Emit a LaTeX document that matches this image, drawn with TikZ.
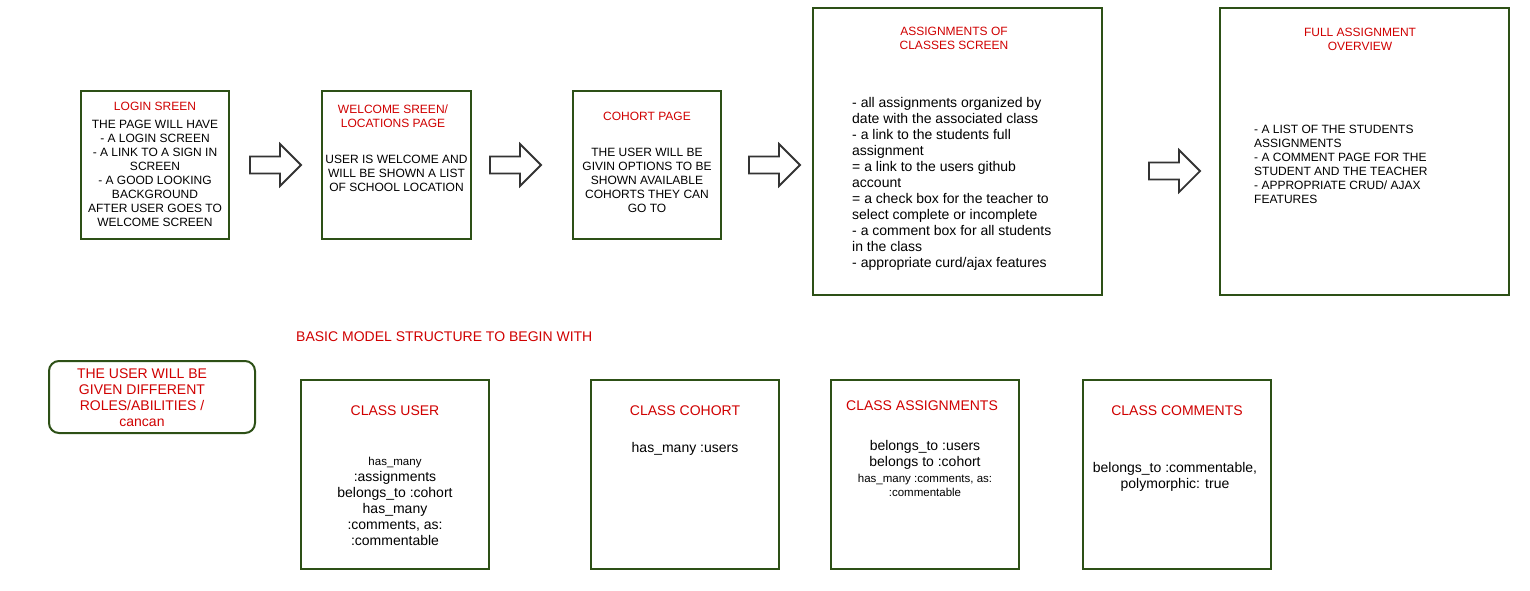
\documentclass[tikz,border=0pt]{standalone}
\usepackage{fontspec}
\setmainfont{Liberation Sans}
\definecolor{boxgreen}{HTML}{2D5016}
\definecolor{titlered}{HTML}{D00000}
\definecolor{arrowgray}{HTML}{333333}
\tikzset{
  screenbox/.style={draw=boxgreen, line width=2pt, fill=white, inner sep=0pt},
  rolebox/.style={screenbox, rounded corners=10pt},
  redtitle/.style={text=titlered, align=center, inner sep=0pt, font=\fontsize{12}{14}\selectfont},
  bigredtitle/.style={text=titlered, align=center, inner sep=0pt, font=\fontsize{14}{16}\selectfont},
  bodytext/.style={text=black, align=center, inner sep=0pt, font=\fontsize{12}{14}\selectfont},
  leftbody/.style={text=black, align=left, inner sep=0pt, anchor=west},
  classbody/.style={text=black, align=center, inner sep=0pt, font=\fontsize{14}{16}\selectfont},
  arrowline/.style={draw=arrowgray, line width=1.8pt, fill=white, line join=miter},
  blockarrow/.pic={\draw[arrowline] (0,-8.5) -- (30,-8.5) -- (30,-21) -- (51,0) -- (30,21) -- (30,8.5) -- (0,8.5) -- cycle;}
}
\newcommand{\smalltext}{\fontsize{11.5}{13}\selectfont}
\begin{document}
\begin{tikzpicture}[x=1pt,y=-1pt]
\useasboundingbox[fill=white] (0,0) rectangle (1530,590);

% top row boxes
\node[screenbox, minimum width=148, minimum height=148] (login) at (155,165) {};
\node[screenbox, minimum width=149, minimum height=148] (welcome) at (396.5,165) {};
\node[screenbox, minimum width=148, minimum height=148] (cohort) at (647,165) {};
\node[screenbox, minimum width=289, minimum height=287] (assign) at (957.5,151.5) {};
\node[screenbox, minimum width=289, minimum height=287] (full) at (1364.5,151.5) {};

% block arrows between screens
\pic at (250,165) {blockarrow};
\pic at (490,165) {blockarrow};
\pic at (749,165) {blockarrow};
\pic at (1149,171) {blockarrow};

% login
\node[redtitle] (logint) at (155,106.5) {LOGIN SREEN};
\node[bodytext] (loginb) at (155,173.5) {THE PAGE WILL HAVE\\- A LOGIN SCREEN\\- A LINK TO A SIGN IN\\SCREEN\\- A GOOD LOOKING\\BACKGROUND\\AFTER USER GOES TO\\WELCOME SCREEN};

% welcome
\node[redtitle] (welcomet) at (393,116.5) {WELCOME SREEN/\\LOCATIONS PAGE};
\node[bodytext] (welcomeb) at (396.5,173) {USER IS WELCOME AND\\WILL BE SHOWN A LIST\\OF SCHOOL LOCATION};

% cohort
\node[redtitle] (cohortt) at (647,116.5) {COHORT PAGE};
\node[bodytext] (cohortb) at (647,180.5) {THE USER WILL BE\\GIVIN OPTIONS TO BE\\SHOWN AVAILABLE\\COHORTS THEY CAN\\GO TO};

% assignments of classes
\node[redtitle] (assignt) at (954,38.5) {ASSIGNMENTS OF\\CLASSES SCREEN};
\node[leftbody, font=\fontsize{14}{16}\selectfont] (assignb) at (852,183.5) {- all assignments organized by\\date with the associated class\\- a link to the students full\\assignment\\= a link to the users github\\account\\= a check box for the teacher to\\select complete or incomplete\\- a comment box for all students\\in the class\\- appropriate curd/ajax features};

% full assignment overview
\node[redtitle] (fullt) at (1360,39) {FULL ASSIGNMENT\\OVERVIEW};
\node[leftbody, font=\fontsize{12}{14}\selectfont] (fullb) at (1254,164.5) {- A LIST OF THE STUDENTS\\ASSIGNMENTS\\- A COMMENT PAGE FOR THE\\STUDENT AND THE TEACHER\\- APPROPRIATE CRUD/ AJAX\\FEATURES};

% basic model heading
\node[text=titlered, inner sep=0pt, anchor=west, font=\fontsize{14}{16}\selectfont] (basic) at (296,336.5) {BASIC MODEL STRUCTURE TO BEGIN WITH};

% roles box
\node[rolebox, minimum width=206, minimum height=72] (roles) at (152,397) {};
\node[bigredtitle] (rolest) at (142,397.5) {THE USER WILL BE\\GIVEN DIFFERENT\\ROLES/ABILITIES /\\cancan};

% class boxes
\node[screenbox, minimum width=188, minimum height=189] (cuser) at (395,474.5) {};
\node[screenbox, minimum width=188, minimum height=189] (ccohort) at (685,474.5) {};
\node[screenbox, minimum width=188, minimum height=189] (cassign) at (925,474.5) {};
\node[screenbox, minimum width=188, minimum height=189] (ccomments) at (1177,474.5) {};

\node[bigredtitle] (cusert) at (395,410.5) {CLASS USER};
\node[classbody] (cuserb) at (395,501.5) {{\smalltext has\_many}\\:assignments\\belongs\_to :cohort\\has\_many\\:comments, as:\\:commentable};

\node[bigredtitle] (ccohortt) at (685,410.5) {CLASS COHORT};
\node[classbody] (ccohortb) at (685,449) {has\_many :users};

\node[bigredtitle] (cassignt) at (922,405.5) {CLASS ASSIGNMENTS};
\node[classbody] (cassignb) at (925,468) {belongs\_to :users\\belongs to :cohort\\{\smalltext has\_many :comments, as:}\\[-2pt]{\smalltext :commentable}};

\node[bigredtitle] (ccommentst) at (1177,410.5) {CLASS COMMENTS};
\node[classbody] (ccommentsb) at (1175,477) {belongs\_to :commentable,\\polymorphic: true};
\end{tikzpicture}
\end{document}
